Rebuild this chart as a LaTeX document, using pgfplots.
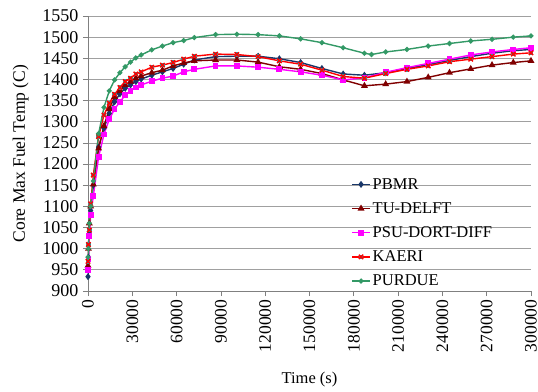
\documentclass[border=0pt]{standalone}
\usepackage{fontspec}
\setmainfont{Liberation Serif}
\usepackage{pgfplots}
\pgfplotsset{compat=1.18}
\definecolor{cpbmr}{RGB}{25,55,105}
\definecolor{ctud}{RGB}{128,0,0}
\definecolor{cpsu}{RGB}{255,0,255}
\definecolor{ckaeri}{RGB}{255,0,0}
\definecolor{ckteal}{RGB}{51,153,153}
\definecolor{cpurdue}{RGB}{51,153,102}
\definecolor{cgrid}{RGB}{160,160,160}
\definecolor{caxis}{RGB}{128,128,128}
\pgfdeclareplotmark{kaeri}{%
 \pgfpathrectangle{\pgfpoint{-\pgfplotmarksize}{-\pgfplotmarksize}}{\pgfpoint{2\pgfplotmarksize}{2\pgfplotmarksize}}%
 \pgfsetfillcolor{ckteal}\pgfusepathqfill
 \pgfpathmoveto{\pgfpoint{-\pgfplotmarksize}{-\pgfplotmarksize}}\pgfpathlineto{\pgfpoint{\pgfplotmarksize}{\pgfplotmarksize}}%
 \pgfpathmoveto{\pgfpoint{-\pgfplotmarksize}{\pgfplotmarksize}}\pgfpathlineto{\pgfpoint{\pgfplotmarksize}{-\pgfplotmarksize}}%
 \pgfsetstrokecolor{ckaeri}\pgfusepathqstroke
}
\begin{document}
\begin{tikzpicture}[x=1pt,y=1pt]
\path[use as bounding box] (-88,-100) rectangle (450,291);
\begin{axis}[
  at={(0,0)}, anchor=south west,
  scale only axis, width=443pt, height=275pt,
  xmin=0, xmax=300000, ymin=900, ymax=1550,
  xtick={0,30000,...,300000}, ytick={900,950,...,1550},
  scaled x ticks=false,
  axis x line=bottom, axis y line=left,
  axis line style={caxis, line width=0.8pt, -},
  ymajorgrids, grid style={cgrid, line width=0.8pt},
  tick style={caxis, line width=0.8pt},
  tick align=outside, major tick length=5pt,
  /pgf/number format/assume math mode=true,
  xticklabel style={rotate=90, anchor=east, font=\fontsize{17.5}{20}\selectfont, /pgf/number format/fixed, /pgf/number format/1000 sep={}},
  yticklabel style={font=\fontsize{18}{20}\selectfont, /pgf/number format/1000 sep={}, xshift=-1pt},
  xlabel={Time (s)},
  ylabel={Core Max Fuel Temp (C)},
  xlabel style={at={(axis description cs:0.5,-0.3236)}, anchor=center, font=\fontsize{16.5}{20}\selectfont},
  ylabel style={at={(axis description cs:-0.152,0.5)}, anchor=center, font=\fontsize{17.5}{20}\selectfont},
  legend style={at={(rel axis cs:0.594,0.418)}, anchor=north west, draw=none, fill=none,
    font=\fontsize{16.5}{20}\selectfont, row sep=7.8pt, inner sep=0pt,
    nodes={inner xsep=2pt},
    legend cell align=left},
  legend image code/.code={\draw[mark repeat=2,mark phase=2] plot coordinates {(0pt,0pt) (9pt,0pt) (18pt,0pt)};},
  every axis plot/.append style={line width=1.4pt},
]
\addplot[cpbmr, mark=diamond*, mark size=2.4pt, mark options={solid}] coordinates {
(0,934)(300,980)(900,1040)(1800,1090)(3600,1150)(7200,1240)(10800,1285)(14400,1320)(18000,1347)(21600,1366)(25200,1379)(28800,1387)(32400,1395)(36000,1401)(43200,1410)(50400,1418)(57600,1426)(64800,1436)(72000,1446)(86400,1454)(100800,1455)(115200,1455)(129600,1449)(144000,1440)(158400,1426)(172800,1413)(187200,1410)(201600,1416)(216000,1426)(230400,1435)(244800,1445)(259200,1454)(273600,1462)(288000,1468)(300000,1471)};
\addlegendentry{PBMR}
\addplot[ctud, mark=triangle*, mark size=2.6pt] coordinates {
(0,960)(300,1000)(900,1060)(1800,1100)(3600,1152)(7200,1237)(10800,1290)(14400,1330)(18000,1359)(21600,1373)(25200,1387)(28800,1395)(32400,1403)(36000,1408)(43200,1416)(50400,1422)(57600,1432)(64800,1439)(72000,1444)(86400,1446)(100800,1446)(115200,1441)(129600,1430)(144000,1424)(158400,1414)(172800,1399)(187200,1385)(201600,1389)(216000,1395)(230400,1405)(244800,1416)(259200,1425)(273600,1434)(288000,1440)(300000,1444)};
\addlegendentry{TU-DELFT}
\addplot[cpsu, mark=square*, mark size=2.2pt] coordinates {
(0,950)(300,975)(900,1030)(1800,1080)(3600,1124)(7200,1217)(10800,1270)(14400,1306)(18000,1330)(21600,1347)(25200,1363)(28800,1373)(32400,1381)(36000,1387)(43200,1396)(50400,1403)(57600,1408)(64800,1418)(72000,1424)(86400,1432)(100800,1432)(115200,1429)(129600,1424)(144000,1418)(158400,1410)(172800,1399)(187200,1404)(201600,1417)(216000,1428)(230400,1438)(244800,1448)(259200,1458)(273600,1465)(288000,1471)(300000,1475)};
\addlegendentry{PSU-DORT-DIFF}
\addplot[ckaeri, mark=kaeri, mark size=2.2pt] coordinates {
(0,970)(300,1010)(900,1044)(1800,1106)(3600,1174)(7200,1265)(10800,1316)(14400,1344)(18000,1365)(21600,1381)(25200,1395)(28800,1403)(32400,1413)(36000,1418)(43200,1429)(50400,1434)(57600,1440)(64800,1448)(72000,1455)(86400,1460)(100800,1459)(115200,1454)(129600,1444)(144000,1436)(158400,1422)(172800,1407)(187200,1403)(201600,1414)(216000,1424)(230400,1432)(244800,1442)(259200,1448)(273600,1454)(288000,1460)(300000,1463)};
\addlegendentry{KAERI}
\addplot[cpurdue, mark=*, mark size=1.8pt] coordinates {
(0,980)(300,1000)(900,1060)(1800,1100)(3600,1160)(7200,1272)(10800,1334)(14400,1373)(18000,1399)(21600,1416)(25200,1430)(28800,1441)(32400,1451)(36000,1458)(43200,1470)(50400,1479)(57600,1487)(64800,1492)(72000,1499)(86400,1506)(100800,1507)(115200,1506)(129600,1503)(144000,1496)(158400,1487)(172800,1475)(187200,1462)(192000,1459)(201600,1465)(216000,1471)(230400,1479)(244800,1485)(259200,1491)(273600,1495)(288000,1500)(300000,1503)};
\addlegendentry{PURDUE}
\end{axis}
\end{tikzpicture}
\end{document}
